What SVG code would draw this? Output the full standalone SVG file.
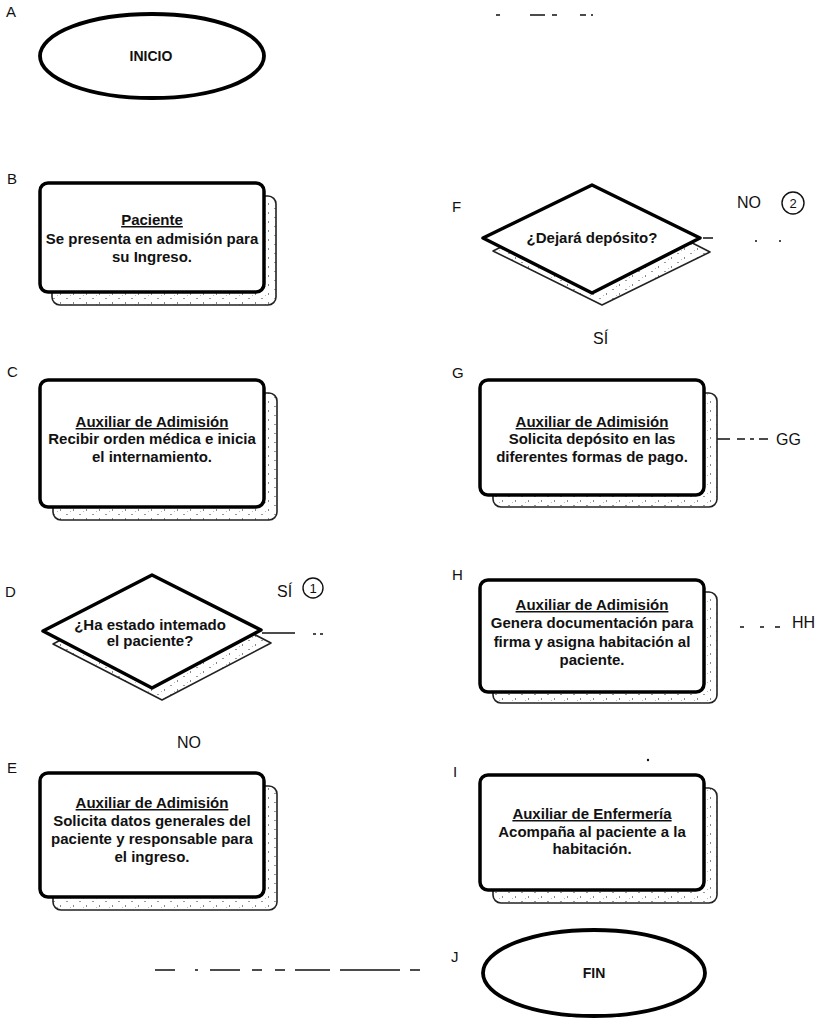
<svg xmlns="http://www.w3.org/2000/svg" width="830" height="1029" viewBox="0 0 830 1029">
<style>
.lbl{font-family:"Liberation Sans",Arial,sans-serif;font-size:15px;fill:#111}
.num{font-family:"Liberation Sans",Arial,sans-serif;font-size:13px;fill:#111;text-anchor:middle}
.txt{font-family:"Liberation Sans",Arial,sans-serif;font-size:15px;font-weight:bold;fill:#111;text-anchor:middle}
.tt{font-family:"Liberation Sans",Arial,sans-serif;font-size:14px;font-weight:bold;fill:#111;text-anchor:middle}
.side{font-family:"Liberation Sans",Arial,sans-serif;font-size:16px;fill:#111}
.box{fill:#fff;stroke:#000;stroke-width:3.5}
.shd{fill:url(#speck);stroke:#222;stroke-width:1.6}
.term{fill:#fff;stroke:#000;stroke-width:3.8}
.con{fill:none;stroke:#111;stroke-width:1.5}
</style>
<defs>
<pattern id="speck" width="13" height="9" patternUnits="userSpaceOnUse">
<rect width="13" height="9" fill="#fff"/>
<rect x="1" y="1" width="2" height="1" fill="#999"/>
<rect x="8" y="5" width="1" height="2" fill="#888"/>
<rect x="5" y="7" width="1" height="1" fill="#bbb"/>
</pattern>
</defs>

<g id="connectors">
<path class="con" d="M496 15 H500 M530 15 H545 M552 15 H557 M580 15 H586 M591 15 H593"/>
<path class="con" d="M262 633 H295"/>
<path class="con" d="M313 634 H316 M320 634 H323"/>
<path class="con" d="M703 238 H713"/>
<path class="con" d="M755 241 H757 M779 241 H781"/>
<path class="con" d="M703 439 H730 M737 439 H745 M750 439 H754 M759 439 H768"/>
<path class="con" d="M703 627 H713 M740 627 H744 M760 627 H764 M775 627 H780"/>
<path class="con" d="M155 970 H175 M195 970 H198 M210 970 H240 M252 970 H262 M275 970 H285 M295 970 H330 M340 970 H400 M410 970 H420"/>
<circle cx="648" cy="760" r="1.2" fill="#111"/>
</g>

<g id="node-A">
<text class="lbl" x="6" y="17">A</text>
<ellipse class="term" cx="152" cy="56" rx="112" ry="42"/>
<text class="tt" x="151" y="61">INICIO</text>
</g>

<g id="node-B">
<text class="lbl" x="7" y="184">B</text>
<rect class="shd" x="52" y="196" width="224" height="109" rx="8"/>
<rect class="box" x="40" y="183" width="224" height="109" rx="8"/>
<text class="txt" x="152" y="225" text-decoration="underline">Paciente</text>
<text class="txt" x="152" y="244">Se presenta en admisión para</text>
<text class="txt" x="152" y="262">su Ingreso.</text>
</g>

<g id="node-C">
<text class="lbl" x="7" y="377">C</text>
<rect class="shd" x="53" y="393" width="224" height="127" rx="8"/>
<rect class="box" x="40" y="380" width="224" height="127" rx="8"/>
<text class="txt" x="152" y="427" text-decoration="underline">Auxiliar de Adimisión</text>
<text class="txt" x="152" y="444">Recibir orden médica e inicia</text>
<text class="txt" x="152" y="462">el internamiento.</text>
</g>

<g id="node-D">
<text class="lbl" x="5" y="597">D</text>
<path class="shd" d="M53 644 L162 587 L271 643 L162 700 Z" stroke-linejoin="round"/>
<path class="box" d="M43 631 L152 575 L261 630 L152 688 Z" stroke-linejoin="round"/>
<text class="txt" x="150" y="630">¿Ha estado intemado</text>
<text class="txt" x="150" y="646">el paciente?</text>
<text class="side" x="277" y="597">SÍ</text>
<circle cx="313" cy="588" r="10" fill="none" stroke="#111" stroke-width="1.4"/>
<text class="num" x="313" y="593">1</text>
<text class="side" x="177" y="748">NO</text>
</g>

<g id="node-E">
<text class="lbl" x="7" y="773">E</text>
<rect class="shd" x="53" y="786" width="224" height="124" rx="8"/>
<rect class="box" x="40" y="773" width="224" height="124" rx="8"/>
<text class="txt" x="152" y="808" text-decoration="underline">Auxiliar de Adimisión</text>
<text class="txt" x="152" y="826">Solicita datos generales del</text>
<text class="txt" x="152" y="844">paciente y responsable para</text>
<text class="txt" x="152" y="862">el ingreso.</text>
</g>

<g id="node-F">
<text class="lbl" x="452" y="212">F</text>
<path class="shd" d="M493 251 L602 197 L710 252 L602 305 Z" stroke-linejoin="round"/>
<path class="box" d="M483 238 L592 185 L700 238 L592 293 Z" stroke-linejoin="round"/>
<text class="txt" x="592" y="243">¿Dejará depósito?</text>
<text class="side" x="737" y="208">NO</text>
<circle cx="793" cy="203" r="11" fill="none" stroke="#111" stroke-width="1.4"/>
<text class="num" x="793" y="208" font-size="14">2</text>
<text class="side" x="593" y="344">SÍ</text>
</g>

<g id="node-G">
<text class="lbl" x="452" y="378">G</text>
<rect class="shd" x="493" y="393" width="224" height="114" rx="8"/>
<rect class="box" x="480" y="380" width="224" height="115" rx="8"/>
<text class="txt" x="592" y="427" text-decoration="underline">Auxiliar de Adimisión</text>
<text class="txt" x="592" y="444">Solicita depósito en las</text>
<text class="txt" x="592" y="462">diferentes formas de pago.</text>
<text class="side" x="776" y="445">GG</text>
</g>

<g id="node-H">
<text class="lbl" x="452" y="580">H</text>
<rect class="shd" x="493" y="592" width="224" height="111" rx="8"/>
<rect class="box" x="480" y="580" width="224" height="112" rx="8"/>
<text class="txt" x="592" y="610" text-decoration="underline">Auxiliar de Adimisión</text>
<text class="txt" x="592" y="628">Genera documentación para</text>
<text class="txt" x="592" y="647">firma y asigna habitación al</text>
<text class="txt" x="592" y="665">paciente.</text>
<text class="side" x="792" y="628">HH</text>
</g>

<g id="node-I">
<text class="lbl" x="453" y="777">I</text>
<rect class="shd" x="493" y="788" width="224" height="115" rx="8"/>
<rect class="box" x="480" y="775" width="224" height="115" rx="8"/>
<text class="txt" x="592" y="819" text-decoration="underline">Auxiliar de Enfermería</text>
<text class="txt" x="592" y="837">Acompaña al paciente a la</text>
<text class="txt" x="592" y="854">habitación.</text>
</g>

<g id="node-J">
<text class="lbl" x="451" y="962">J</text>
<ellipse class="term" cx="594" cy="973" rx="111" ry="43"/>
<text class="tt" x="594" y="978">FIN</text>
</g>
</svg>
